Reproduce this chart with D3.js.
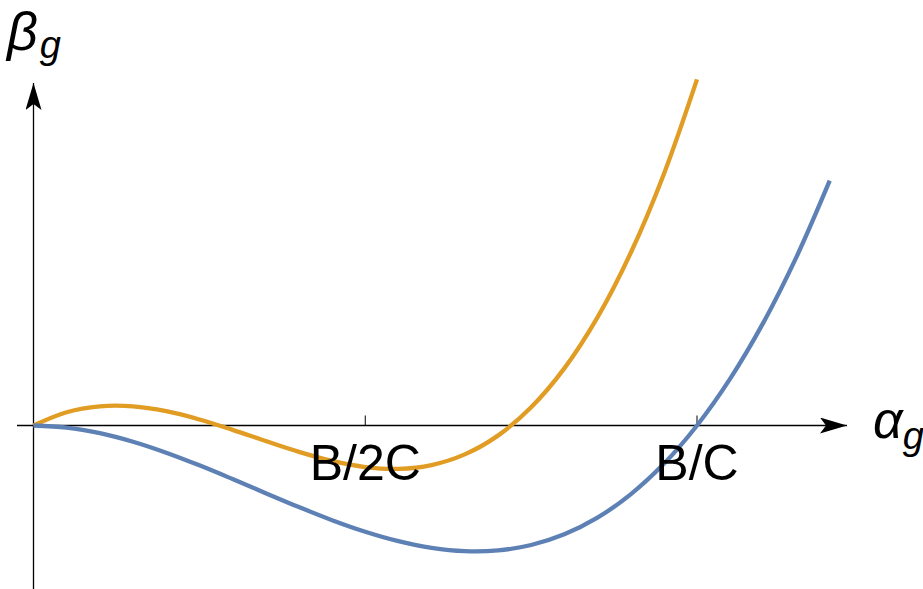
<!DOCTYPE html>
<html><head><meta charset="utf-8">
<script src="https://cdn.jsdelivr.net/npm/d3@7"></script>
<style>body{margin:0;background:#fff}svg{display:block}</style>
</head><body>
<svg id="c" width="923" height="589"></svg>
<script>
// x in units of B/C
const xs = [0,0.05,0.1,0.15,0.2,0.25,0.3,0.35,0.4,0.45,0.5,0.55,0.6,0.65,0.7,0.75,0.8,0.85,0.9,0.95,1.0,1.05,1.1,1.15,1.2];
const blueY = [0,-0.0024,-0.009,-0.0191,-0.032,-0.0469,-0.063,-0.0796,-0.096,-0.1114,-0.125,-0.1361,-0.144,-0.1479,-0.147,-0.1406,-0.128,-0.1084,-0.081,-0.0451,0,0.0551,0.121,0.1984,0.288];
const orangeY = [0,0.0156,0.0225,0.0225,0.0168,0.0071,-0.0051,-0.0183,-0.031,-0.0417,-0.0489,-0.051,-0.0465,-0.034,-0.0119,0.0214,0.0672,0.1272,0.2029,0.2957,0.4072];
const tickVals = [0.5, 1.0];
const tickLabels = ["B/2C", "B/C"];

const svg = d3.select("#c");
const x = d3.scaleLinear().domain([0,1]).range([33.5,697]);
const y = d3.scaleLinear().domain([0,0.1]).range([425.5,340.5]);

const defs = svg.append("defs");
defs.append("marker").attr("id","arr").attr("viewBox","0 0 28 16").attr("refX",27).attr("refY",8)
  .attr("markerWidth",28).attr("markerHeight",16).attr("markerUnits","userSpaceOnUse").attr("orient","auto")
  .append("path").attr("d","M0,0 L27,8 L0,16 L6,8 Z").attr("fill","#000");

// axes
svg.append("line").attr("x1",17).attr("x2",847).attr("y1",y(0)).attr("y2",y(0))
  .attr("stroke","#000").attr("stroke-width",1.3).attr("marker-end","url(#arr)");
svg.append("line").attr("x1",x(0)).attr("x2",x(0)).attr("y1",589).attr("y2",83)
  .attr("stroke","#000").attr("stroke-width",1.3).attr("marker-end","url(#arr)");

svg.selectAll(".tick").data(tickVals).enter().append("line")
  .attr("x1",d=>x(d)).attr("x2",d=>x(d)).attr("y1",y(0)).attr("y2",y(0)-10)
  .attr("stroke","#000").attr("stroke-width",1);

const line = d3.line().x(d=>x(d[0])).y(d=>y(d[1])).curve(d3.curveCatmullRom);
svg.append("path").datum(xs.slice(0,orangeY.length).map((v,i)=>[v,orangeY[i]]))
  .attr("d",line).attr("fill","none").attr("stroke","#E19C24").attr("stroke-width",4.3);
svg.append("path").datum(xs.map((v,i)=>[v,blueY[i]]))
  .attr("d",line).attr("fill","none").attr("stroke","#5E81B5").attr("stroke-width",4.3);

svg.selectAll(".tl").data(tickVals).enter().append("text")
  .attr("x",d=>x(d)).attr("y",480).attr("text-anchor","middle")
  .attr("font-family","Liberation Sans, Arial, sans-serif").attr("font-size",50)
  .text((d,i)=>tickLabels[i]);

const ax = svg.append("text").attr("x",873).attr("y",438)
  .attr("font-family","Liberation Sans, Arial, sans-serif").attr("font-style","italic").attr("font-size",52);
ax.append("tspan").text("α");
ax.append("tspan").attr("font-size",38).attr("dy",11).text("g");

const by = svg.append("text").attr("x",7).attr("y",50)
  .attr("font-family","Liberation Sans, Arial, sans-serif").attr("font-style","italic").attr("font-size",54);
by.append("tspan").text("β");
by.append("tspan").attr("font-size",38).attr("dy",8).attr("dx",2).text("g");
</script>
</body></html>
